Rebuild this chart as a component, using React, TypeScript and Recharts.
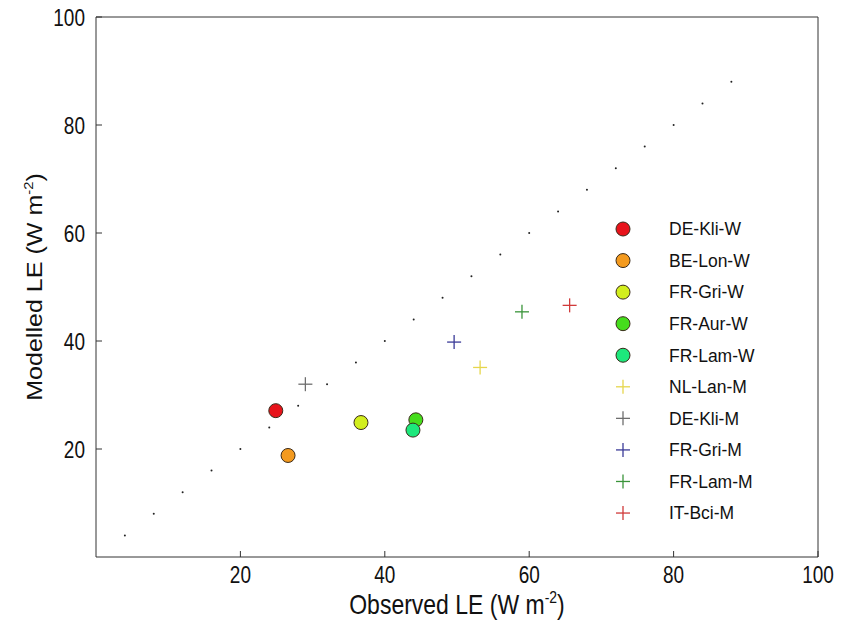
import { ScatterChart, Scatter, XAxis, YAxis, Legend } from 'recharts';

const siteNames = ['DE-Kli-W', 'BE-Lon-W', 'FR-Gri-W', 'FR-Aur-W', 'FR-Lam-W', 'NL-Lan-M', 'DE-Kli-M', 'FR-Gri-M', 'FR-Lam-M', 'IT-Bci-M'];
const observedLE = [24.9, 26.6, 36.7, 44.3, 43.9, 53.2, 29.0, 49.6, 59.0, 65.6];
const modelledLE = [27.1, 18.8, 24.9, 25.4, 23.5, 35.1, 32.0, 39.8, 45.4, 46.6];
const markerKinds = ['circle', 'circle', 'circle', 'circle', 'circle', 'plus', 'plus', 'plus', 'plus', 'plus'];
const siteColors = ['#e8131b', '#f39a1f', '#d2ee1e', '#45dd1c', '#1de87c', '#e6d64c', '#6e6e6e', '#3b3b98', '#3a943a', '#d03a3a'];

// 1:1 reference dots
const oneToOne = [4, 8, 12, 16, 20, 24, 28, 32, 36, 40, 44, 48, 52, 56, 60, 64, 68, 72, 76, 80, 84, 88];

const xTicks = [20, 40, 60, 80, 100];
const yTicks = [20, 40, 60, 80, 100];

const FONT = 'Liberation Sans, Arial, sans-serif';

const diagData = oneToOne.map((v) => ({ x: v, y: v }));

function Marker({ kind, color, cx, cy }: { kind: string; color: string; cx: number; cy: number }) {
  if (kind === 'circle') {
    return <circle cx={cx} cy={cy} r={7} fill={color} stroke="#3a2a1a" strokeWidth={1} />;
  }
  return (
    <g stroke={color} strokeWidth={1.3}>
      <line x1={cx - 7} y1={cy} x2={cx + 7} y2={cy} />
      <line x1={cx} y1={cy - 7} x2={cx} y2={cy + 7} />
    </g>
  );
}

const XTick = (props: any) => {
  const { x, y, payload } = props;
  return (
    <text transform={`translate(${x},${y}) scale(1,1.25)`} y={14} textAnchor="middle" fontSize={19} fontFamily={FONT} fill="#111">
      {payload.value}
    </text>
  );
};

const YTick = (props: any) => {
  const { x, y, payload } = props;
  return (
    <text transform={`translate(${x},${y}) scale(1,1.25)`} y={6.8} textAnchor="end" fontSize={19} fontFamily={FONT} fill="#111">
      {payload.value}
    </text>
  );
};

const XLabel = (props: any) => {
  const { viewBox } = props;
  const cx = viewBox.x + viewBox.width / 2;
  return (
    <text transform={`translate(${cx},${viewBox.y + 57}) scale(1,1.2)`} textAnchor="middle" fontSize={23} fontFamily={FONT} fill="#111">
      Observed LE (W m
      <tspan dy={-9} fontSize={14}>-2</tspan>
      <tspan dy={9}>)</tspan>
    </text>
  );
};

const YLabel = (props: any) => {
  const { viewBox } = props;
  const cy = viewBox.y + viewBox.height / 2;
  return (
    <text transform={`translate(42,${cy}) rotate(-90) scale(1.14,1)`} textAnchor="middle" fontSize={22} fontFamily={FONT} fill="#111">
      Modelled LE (W m
      <tspan dy={-9} fontSize={13}>-2</tspan>
      <tspan dy={9}>)</tspan>
    </text>
  );
};

const renderLegend = () => (
  <svg width={180} height={320}>
    {siteNames.map((name, i) => {
      const cy = 19 + i * 31.56;
      return (
        <g key={name}>
          <Marker kind={markerKinds[i]} color={siteColors[i]} cx={23} cy={cy} />
          <text x={69} y={cy} dy="0.36em" fontSize={17.5} fontFamily={FONT} fill="#111">
            {name}
          </text>
        </g>
      );
    })}
  </svg>
);

export default function App() {
  return (
    <div style={{ position: 'absolute', left: 0, top: 0, background: '#fff' }}>
      <ScatterChart width={841} height={631} margin={{ top: 12, right: 18, bottom: 14, left: 36 }}>
        <XAxis
          xAxisId="b"
          type="number"
          dataKey="x"
          domain={[0, 100]}
          ticks={xTicks}
          orientation="bottom"
          height={60}
          tickSize={-6}
          tickMargin={14}
          tick={<XTick />}
          axisLine={{ stroke: '#333' }}
          tickLine={{ stroke: '#333' }}
          label={<XLabel />}
        />
        <XAxis
          xAxisId="t"
          type="number"
          dataKey="x"
          domain={[0, 100]}
          ticks={[20, 40, 60, 80]}
          orientation="top"
          height={5}
          tickSize={-6}
          tick={false}
          axisLine={{ stroke: '#333' }}
          tickLine={{ stroke: '#333' }}
        />
        <YAxis
          yAxisId="l"
          type="number"
          dataKey="y"
          domain={[0, 100]}
          ticks={yTicks}
          orientation="left"
          width={60}
          tickSize={-6}
          tickMargin={17}
          tick={<YTick />}
          axisLine={{ stroke: '#333' }}
          tickLine={{ stroke: '#333' }}
          label={<YLabel />}
        />
        <YAxis
          yAxisId="r"
          type="number"
          dataKey="y"
          domain={[0, 100]}
          ticks={[20, 40, 60, 80]}
          orientation="right"
          width={5}
          tickSize={-6}
          tick={false}
          axisLine={{ stroke: '#333' }}
          tickLine={{ stroke: '#333' }}
        />
        <Legend
          layout="vertical"
          align="center"
          verticalAlign="middle"
          content={renderLegend}
          wrapperStyle={{ left: 600, top: 210, width: 180, height: 320 }}
        />
        <Scatter
          name="1:1"
          xAxisId="b"
          yAxisId="l"
          data={diagData}
          isAnimationActive={false}
          legendType="none"
          shape={(p: any) => <circle cx={p.cx} cy={p.cy} r={1} fill="#222" />}
        />
        {siteNames.map((name, i) => (
          <Scatter
            key={name}
            name={name}
            xAxisId="b"
            yAxisId="l"
            data={[{ x: observedLE[i], y: modelledLE[i] }]}
            isAnimationActive={false}
            shape={(p: any) => <Marker kind={markerKinds[i]} color={siteColors[i]} cx={p.cx} cy={p.cy} />}
          />
        ))}
      </ScatterChart>
    </div>
  );
}
